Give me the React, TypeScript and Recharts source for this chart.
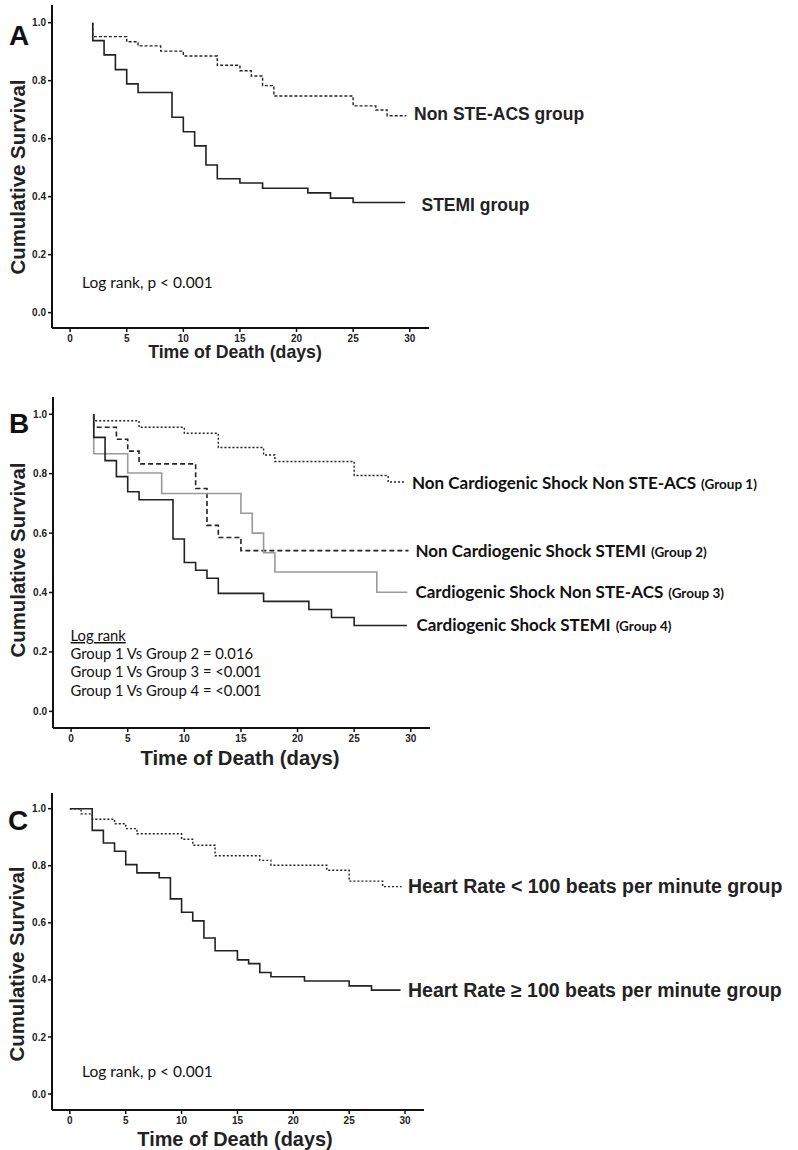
import React from 'react';
import { LineChart, Line, XAxis, YAxis } from 'recharts';

// Panel A: Non STE-ACS vs STEMI
const aNonTimes = [2, 2, 5, 6, 8, 10, 13, 15, 16, 17, 18, 25, 27, 28, 29.7];
const aNonSurv = [1.0, 0.952, 0.934, 0.92, 0.902, 0.885, 0.853, 0.834, 0.816, 0.783, 0.747, 0.713, 0.699, 0.679, 0.679];
const aStemiTimes = [2, 2, 3, 4, 5, 6, 9, 10, 11, 12, 13, 15, 17, 21, 23, 25, 29.6];
const aStemiSurv = [1.0, 0.938, 0.889, 0.838, 0.789, 0.759, 0.674, 0.624, 0.575, 0.509, 0.462, 0.447, 0.429, 0.413, 0.395, 0.38, 0.38];

// Panel B: four groups
const g1Times = [2, 2, 6, 10, 13, 17, 18, 25, 28, 29.5];
const g1Surv = [1.0, 0.978, 0.956, 0.936, 0.888, 0.863, 0.841, 0.794, 0.772, 0.772];
const g2Times = [2, 2, 4, 5, 6, 11, 12, 13, 15, 29.8];
const g2Surv = [1.0, 0.956, 0.916, 0.876, 0.833, 0.75, 0.626, 0.585, 0.541, 0.541];
const g3Times = [2, 2, 5, 8, 15, 16, 17, 18, 27, 29.7];
const g3Surv = [1.0, 0.867, 0.802, 0.733, 0.667, 0.6, 0.534, 0.469, 0.401, 0.401];
const g4Times = [2, 2, 3, 4, 5, 6, 9, 10, 11, 12, 13, 17, 21, 23, 25, 29.65];
const g4Surv = [1.0, 0.922, 0.844, 0.79, 0.739, 0.712, 0.58, 0.501, 0.475, 0.448, 0.397, 0.37, 0.343, 0.316, 0.289, 0.289];

// Panel C: heart rate
const lowHrTimes = [0, 1, 2, 4, 5, 6, 10, 11, 13, 17, 18, 23, 25, 28, 29.7];
const lowHrSurv = [1.0, 0.982, 0.963, 0.947, 0.93, 0.912, 0.893, 0.872, 0.835, 0.819, 0.802, 0.784, 0.746, 0.727, 0.727];
const highHrTimes = [0, 2, 3, 4, 5, 6, 8, 9, 10, 11, 12, 13, 15, 16, 17, 18, 21, 25, 27, 29.6];
const highHrSurv = [1.0, 0.924, 0.88, 0.851, 0.804, 0.775, 0.758, 0.684, 0.637, 0.607, 0.547, 0.502, 0.47, 0.457, 0.426, 0.411, 0.396, 0.379, 0.364, 0.364];

const xTicks = [0, 5, 10, 15, 20, 25, 30];
const yTicks = [0, 0.2, 0.4, 0.6, 0.8, 1.0];

const ARIAL = "'Liberation Sans', Arial, sans-serif";
const CALIBRI = "Lato, 'Noto Sans', sans-serif";

const build = (t: number[], s: number[]) => t.map((x, i) => ({ t: x, s: s[i] }));

type Series = { data: { t: number; s: number }[]; stroke: string; dash?: string; width?: number };

const Panel = ({ top, height, margin, yDomain, series }: {
  top: number;
  height: number;
  margin: { top: number; left: number; right: number; bottom: number };
  yDomain: [number, number];
  series: Series[];
}) => (
  <div style={{ position: 'absolute', left: 0, top, width: 798, height }}>
    <LineChart width={798} height={height} margin={margin}>
      <XAxis
        type="number"
        dataKey="t"
        domain={[-1.6, 31.7]}
        ticks={xTicks}
        allowDataOverflow
        height={30}
        axisLine={{ stroke: '#111', strokeWidth: 2 }}
        tickLine={{ stroke: '#111', strokeWidth: 1.5 }}
        tickSize={4}
        tickMargin={3}
        tick={{ fontSize: 10, fontWeight: 'bold', fill: '#222', fontFamily: ARIAL }}
      />
      <YAxis
        type="number"
        domain={yDomain}
        ticks={yTicks}
        allowDataOverflow
        width={40}
        axisLine={{ stroke: '#111', strokeWidth: 2 }}
        tickLine={{ stroke: '#111', strokeWidth: 1.5 }}
        tickSize={4}
        tickMargin={2}
        tickFormatter={(v: number) => v.toFixed(1)}
        tick={{ fontSize: 10, fontWeight: 'bold', fill: '#222', fontFamily: ARIAL }}
      />
      {series.map((s, i) => (
        <Line
          key={i}
          data={s.data}
          dataKey="s"
          type="stepAfter"
          stroke={s.stroke}
          strokeWidth={s.width ?? 1.6}
          strokeDasharray={s.dash}
          dot={false}
          activeDot={false}
          isAnimationActive={false}
        />
      ))}
    </LineChart>
  </div>
);

const YTitle = ({ x, y }: { x: number; y: number }) => (
  <text x={x} y={y} transform={`rotate(-90, ${x}, ${y})`} textAnchor="middle"
    fontFamily={ARIAL} fontWeight="bold" fontSize={20.4} fill="#222">
    Cumulative Survival
  </text>
);

const XTitle = ({ x, y, size }: { x: number; y: number; size: number }) => (
  <text x={x} y={y} textAnchor="middle" fontFamily={ARIAL} fontWeight="bold" fontSize={size} fill="#222">
    Time of Death (days)
  </text>
);

const Letter = ({ x, y, c }: { x: number; y: number; c: string }) => (
  <text x={x} y={y} fontFamily={ARIAL} fontWeight="bold" fontSize={28} fill="#111">{c}</text>
);

const GroupLabel = ({ x, y, main, group }: { x: number; y: number; main: string; group: string }) => (
  <text x={x} y={y} fontFamily={CALIBRI} fontWeight="bold" fontSize={17} fill="#111">
    {main}
    <tspan fontSize={13.5} dx={5}>{group}</tspan>
  </text>
);

export default function App() {
  return (
    <div style={{ position: 'absolute', left: 0, top: 0, width: 798, height: 1150, background: '#fff', overflow: 'hidden' }}>
      <Panel
        top={0}
        height={380}
        margin={{ top: 5, left: 12, right: 369, bottom: 22 }}
        yDomain={[-0.053, 1.061]}
        series={[
          { data: build(aNonTimes, aNonSurv), stroke: '#222', dash: '3 2', width: 1.4 },
          { data: build(aStemiTimes, aStemiSurv), stroke: '#222' },
        ]}
      />
      <Panel
        top={380}
        height={390}
        margin={{ top: 17, left: 13, right: 368, bottom: 12 }}
        yDomain={[-0.056, 1.058]}
        series={[
          { data: build(g1Times, g1Surv), stroke: '#222', dash: '2 2', width: 1.4 },
          { data: build(g2Times, g2Surv), stroke: '#222', dash: '5 3' },
          { data: build(g3Times, g3Surv), stroke: '#9a9a9a' },
          { data: build(g4Times, g4Surv), stroke: '#222' },
        ]}
      />
      <Panel
        top={770}
        height={380}
        margin={{ top: 23, left: 12, right: 374, bottom: 10 }}
        yDomain={[-0.056, 1.055]}
        series={[
          { data: build(lowHrTimes, lowHrSurv), stroke: '#222', dash: '2 2', width: 1.4 },
          { data: build(highHrTimes, highHrSurv), stroke: '#222' },
        ]}
      />
      <svg width={798} height={1150} style={{ position: 'absolute', left: 0, top: 0, pointerEvents: 'none' }}>
        {/* Panel A */}
        <Letter x={9} y={45} c="A" />
        <YTitle x={25} y={177} />
        <XTitle x={235} y={358} size={17.7} />
        <text x={414} y={119.5} fontFamily={ARIAL} fontWeight="bold" fontSize={17.5} fill="#222">Non STE-ACS group</text>
        <text x={421.5} y={210.5} fontFamily={ARIAL} fontWeight="bold" fontSize={17.5} fill="#222">STEMI group</text>
        <text x={82} y={287.5} fontFamily={CALIBRI} fontSize={15.5} fill="#111">Log rank, p &lt; 0.001</text>

        {/* Panel B */}
        <Letter x={9} y={433} c="B" />
        <YTitle x={25} y={560} />
        <XTitle x={240} y={764.5} size={20.3} />
        <GroupLabel x={412} y={488.5} main="Non Cardiogenic Shock Non STE-ACS" group="(Group 1)" />
        <GroupLabel x={415.5} y={556.5} main="Non Cardiogenic Shock STEMI" group="(Group 2)" />
        <GroupLabel x={415.5} y={597.5} main="Cardiogenic Shock Non STE-ACS" group="(Group 3)" />
        <GroupLabel x={416.5} y={631} main="Cardiogenic Shock STEMI" group="(Group 4)" />
        <text x={70.5} y={641} fontFamily={CALIBRI} fontSize={14.8} fill="#111" textDecoration="underline">Log rank</text>
        <text x={70.5} y={659} fontFamily={CALIBRI} fontSize={14.8} fill="#111">Group 1 Vs Group 2 = 0.016</text>
        <text x={70.5} y={677.3} fontFamily={CALIBRI} fontSize={14.8} fill="#111">Group 1 Vs Group 3 = &lt;0.001</text>
        <text x={70.5} y={695.7} fontFamily={CALIBRI} fontSize={14.8} fill="#111">Group 1 Vs Group 4 = &lt;0.001</text>

        {/* Panel C */}
        <Letter x={8} y={830} c="C" />
        <YTitle x={24} y={964} />
        <XTitle x={235} y={1146} size={19.9} />
        <text x={408} y={893} fontFamily={ARIAL} fontWeight="bold" fontSize={19.5} fill="#222">Heart Rate &lt; 100 beats per minute group</text>
        <text x={408} y={996.5} fontFamily={ARIAL} fontWeight="bold" fontSize={19.5} fill="#222">Heart Rate ≥ 100 beats per minute group</text>
        <text x={82} y={1077.3} fontFamily={CALIBRI} fontSize={15.5} fill="#111">Log rank, p &lt; 0.001</text>
      </svg>
    </div>
  );
}
